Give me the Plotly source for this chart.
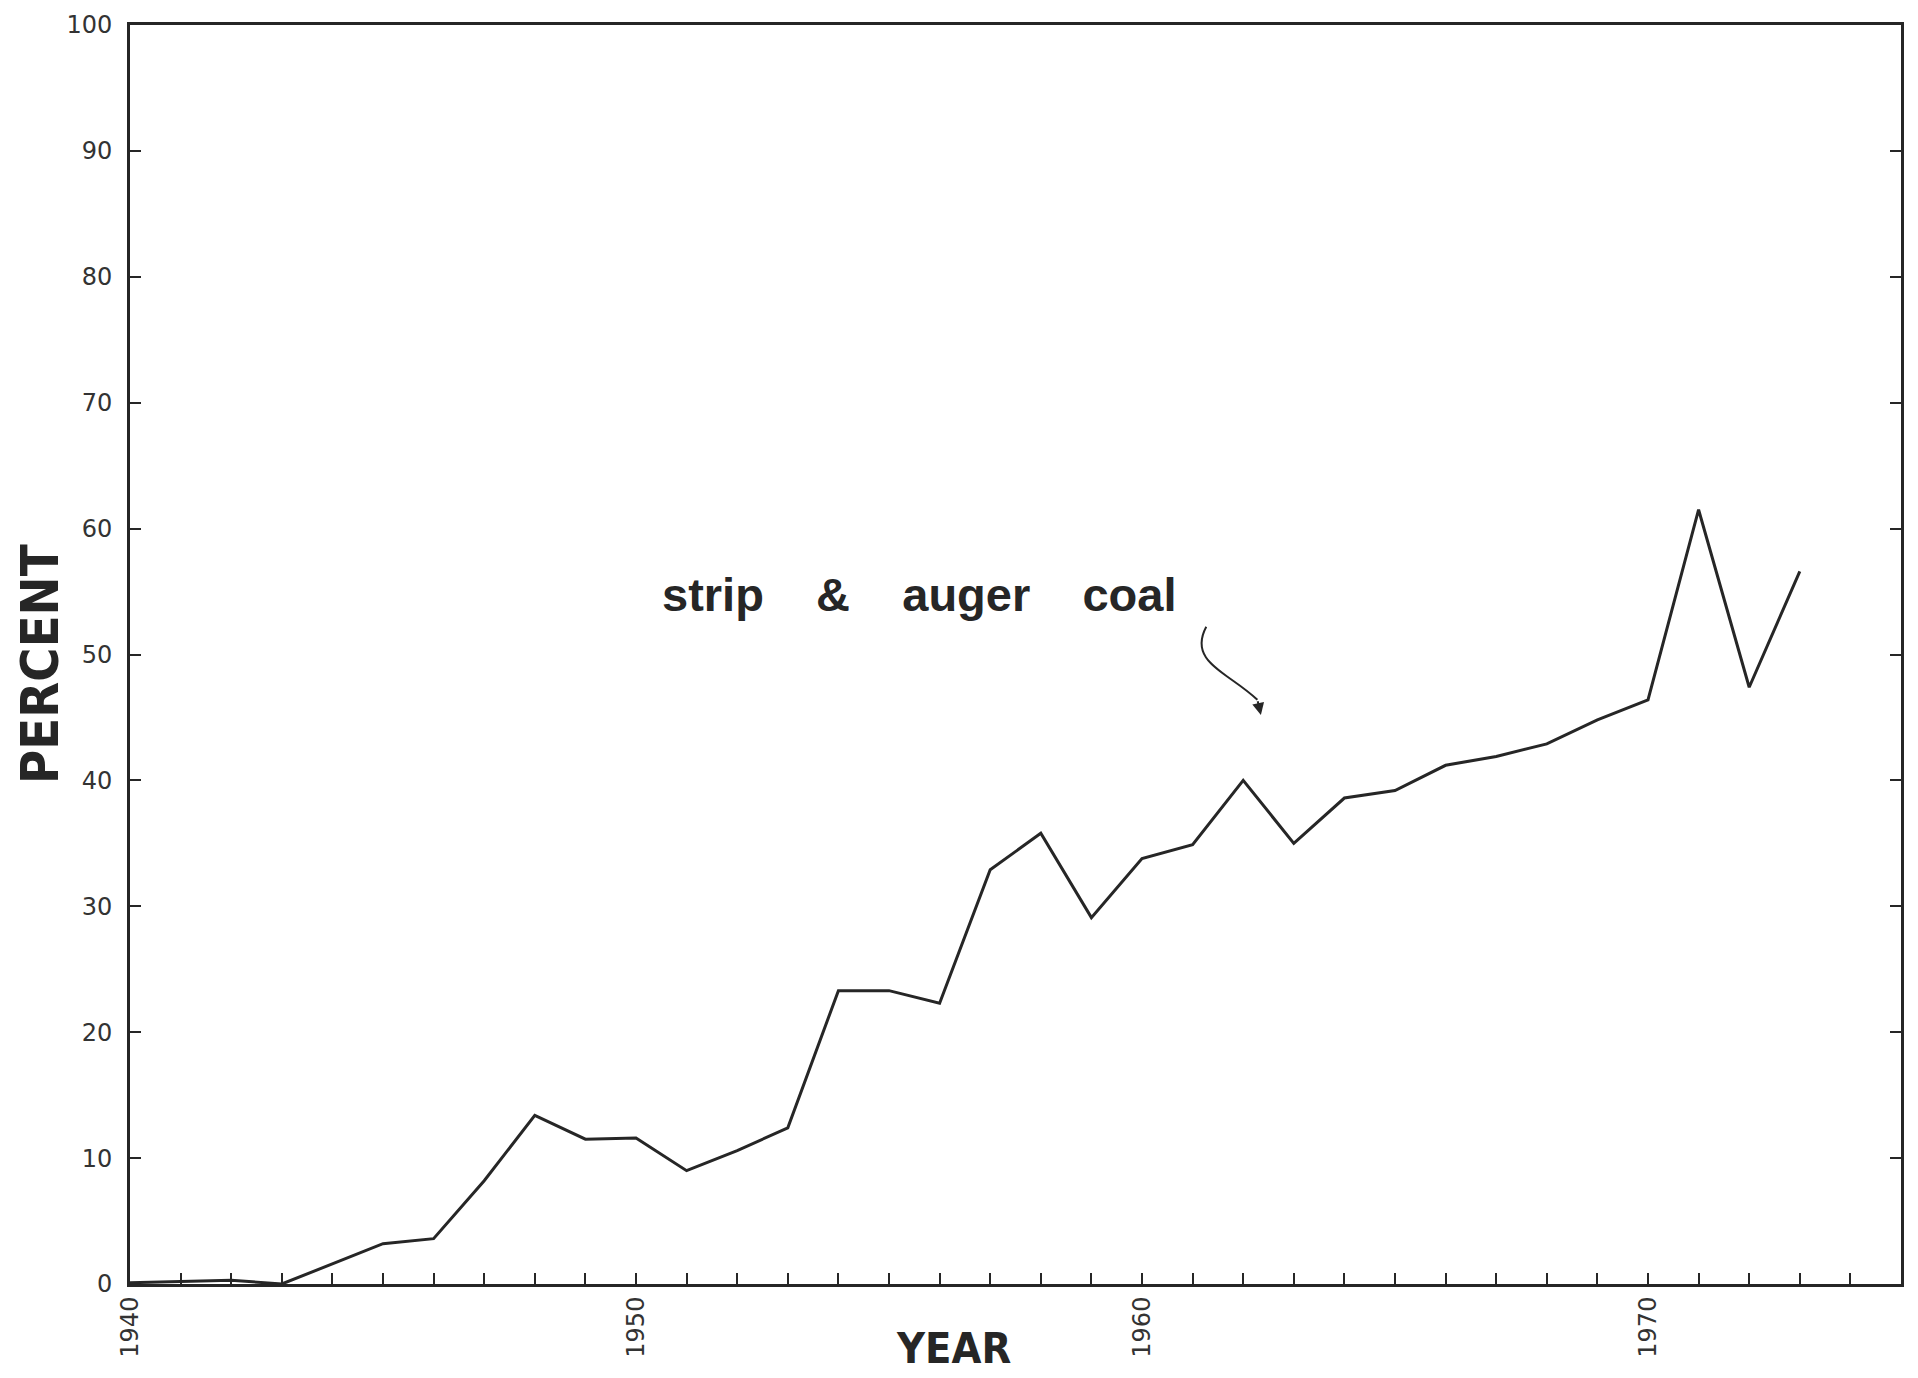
import plotly.graph_objects as go

# ---- data ----
years = list(range(1940, 1974))
percent = [0.1, 0.2, 0.3, 0.0, 1.6, 3.2, 3.6, 8.2, 13.4, 11.5,
           11.6, 9.0, 10.6, 12.4, 23.3, 23.3, 22.3, 32.9, 35.8, 29.1,
           33.8, 34.9, 40.0, 35.0, 38.6, 39.2, 41.2, 41.9, 42.9, 44.8,
           46.4, 61.5, 47.4, 56.6]

x_tick_vals = [1940, 1950, 1960, 1970]
x_tick_text = ["1940", "1950", "1960", "1970"]
y_tick_vals = [0, 10, 20, 30, 40, 50, 60, 70, 80, 90, 100]
y_tick_text = ["0", "10", "20", "30", "40", "50", "60", "70", "80", "90", "100"]

series_label = "strip\u00a0\u00a0\u00a0\u00a0&\u00a0\u00a0\u00a0\u00a0auger\u00a0\u00a0\u00a0\u00a0coal"

INK = "#262626"
TICKFONT = dict(family="DejaVu Sans, Lato, sans-serif", size=24, color="#333333")
NARROW = "Liberation Sans Narrow, Arial Narrow, DejaVu Sans Condensed, Liberation Sans, sans-serif"

fig = go.Figure()
fig.add_trace(go.Scatter(
    x=years, y=percent, mode="lines",
    line=dict(color=INK, width=3),
    showlegend=False, hoverinfo="x+y",
))

fig.update_xaxes(
    range=[1940, 1975],
    tickmode="array", tickvals=x_tick_vals, ticktext=x_tick_text,
    tickangle=-90, tickfont=TICKFONT,
    ticks="inside", ticklen=11, tickwidth=2, tickcolor=INK,
    minor=dict(dtick=1, tick0=1940, ticks="inside", ticklen=11, tickwidth=2, tickcolor=INK),
    showline=True, linecolor=INK, linewidth=3, mirror=True,
    showgrid=False, zeroline=False,
    ticklabelstandoff=0, automargin=False, ticklabeloverflow="allow",
)
fig.update_yaxes(
    range=[0, 100],
    tickmode="array", tickvals=y_tick_vals, ticktext=y_tick_text,
    tickfont=TICKFONT,
    ticks="inside", ticklen=11, tickwidth=2, tickcolor=INK,
    showline=True, linecolor=INK, linewidth=3, mirror="ticks",
    showgrid=False, zeroline=False,
    ticklabelstandoff=10, automargin=False, ticklabeloverflow="allow",
)

# series label
fig.add_annotation(
    x=1955.6, y=54.8, xref="x", yref="y",
    text=series_label, showarrow=False,
    xanchor="center", yanchor="middle",
    font=dict(family="Liberation Sans, Arial, sans-serif", size=47, color=INK, weight="bold"),
)

# curved hand-drawn arrow
fig.add_shape(
    type="path", xref="x", yref="y",
    path="M 1961.27 52.2 C 1960.9 49.4, 1961.7 48.6, 1962.28 46.4",
    line=dict(color=INK, width=2),
)
fig.add_annotation(
    x=1962.35, y=45.2, xref="x", yref="y",
    ax=1962.28, ay=46.4, axref="x", ayref="y",
    text="", showarrow=True, arrowhead=2, arrowsize=1.2, arrowwidth=2, arrowcolor=INK,
)

# axis titles
fig.add_annotation(
    x=0.465, y=-0.0722, xref="paper", yref="paper",
    text="YEAR", showarrow=False, xanchor="center", yanchor="bottom",
    font=dict(family=NARROW, size=43, color=INK, weight="bold"),
)
fig.add_annotation(
    x=-0.0508, y=0.4925, xref="paper", yref="paper",
    text="PERCENT", showarrow=False, xanchor="center", yanchor="middle",
    textangle=-90,
    font=dict(family=NARROW, size=52, color=INK, weight="bold"),
)

fig.update_layout(
    width=1918, height=1378,
    margin=dict(l=122, r=25, t=17, b=102),
    paper_bgcolor="white", plot_bgcolor="white",
    showlegend=False,
)

fig.write_html("out.html")
